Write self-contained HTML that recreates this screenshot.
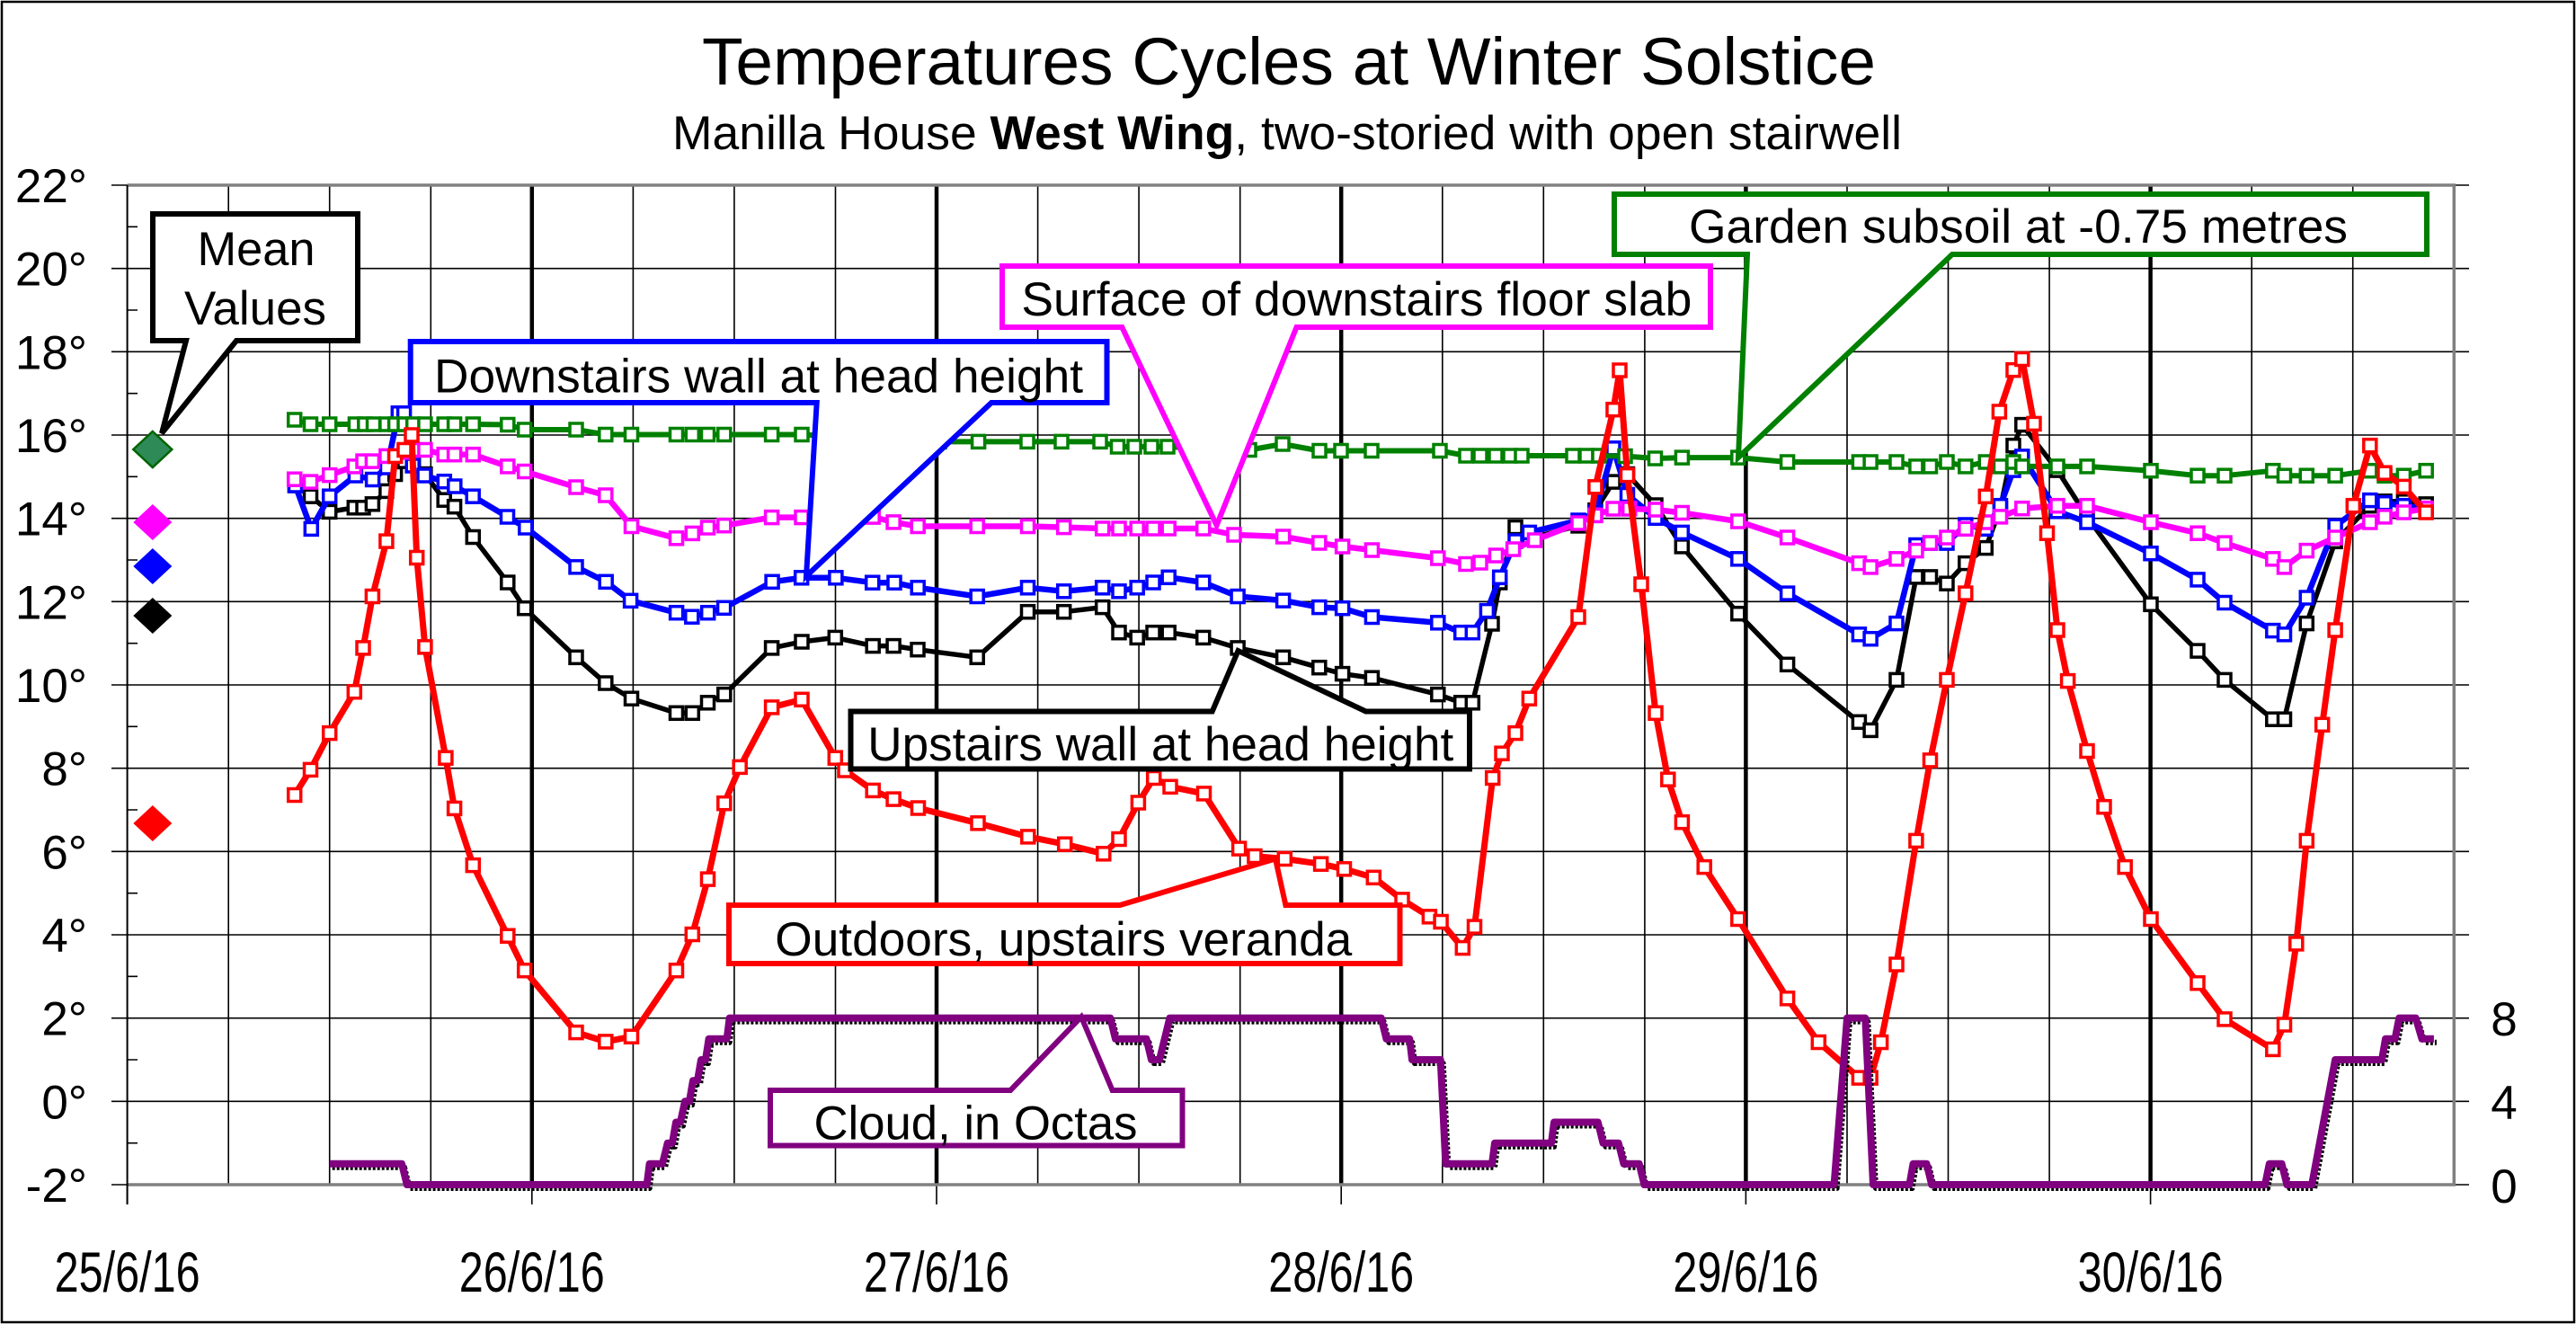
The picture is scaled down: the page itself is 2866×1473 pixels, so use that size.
<!DOCTYPE html>
<html><head><meta charset="utf-8">
<style>html,body{margin:0;padding:0;background:#fff}svg{display:block}</style>
</head><body>
<svg width="2866" height="1473" viewBox="0 0 2866 1473" xmlns="http://www.w3.org/2000/svg" font-family="'Liberation Sans', Arial, sans-serif">
<defs>
<marker id="mg" markerWidth="20" markerHeight="20" refX="10" refY="10" markerUnits="userSpaceOnUse" overflow="visible"><rect x="3" y="3" width="14" height="14" fill="#fff" stroke="#008000" stroke-width="3.5"/></marker>
<marker id="mp" markerWidth="20" markerHeight="20" refX="10" refY="10" markerUnits="userSpaceOnUse" overflow="visible"><rect x="3" y="3" width="14" height="14" fill="#fff" stroke="#ff00ff" stroke-width="3.5"/></marker>
<marker id="mb" markerWidth="20" markerHeight="20" refX="10" refY="10" markerUnits="userSpaceOnUse" overflow="visible"><rect x="3" y="3" width="14" height="14" fill="#fff" stroke="#0000ff" stroke-width="3.5"/></marker>
<marker id="mk" markerWidth="20" markerHeight="20" refX="10" refY="10" markerUnits="userSpaceOnUse" overflow="visible"><rect x="3" y="3" width="14" height="14" fill="#fff" stroke="#000" stroke-width="3.5"/></marker>
<marker id="mr" markerWidth="20" markerHeight="20" refX="10" refY="10" markerUnits="userSpaceOnUse" overflow="visible"><rect x="3" y="3" width="14" height="14" fill="#fff" stroke="#ff0000" stroke-width="3.5"/></marker>
</defs>
<rect x="0" y="0" width="2866" height="1473" fill="#fff"/>
<rect x="2" y="2" width="2862" height="1469" fill="none" stroke="#000" stroke-width="2.5"/>

<!-- Titles -->
<text x="1434" y="94" font-size="74" text-anchor="middle" textLength="1306" lengthAdjust="spacingAndGlyphs">Temperatures Cycles at Winter Solstice</text>
<text x="1432" y="166" font-size="53" text-anchor="middle" textLength="1368" lengthAdjust="spacingAndGlyphs">Manilla House <tspan font-weight="bold">West Wing</tspan>, two-storied with open stairwell</text>

<!-- Horizontal gridlines + left major ticks + right extension -->
<path d="M124,206H2747M124,298.7H2747M124,391.3H2747M124,484H2747M124,576.7H2747M124,669.3H2747M124,762H2747M124,854.7H2747M124,947.3H2747M124,1040H2747M124,1132.7H2747M124,1225.3H2747M124,1318H2747" stroke="#000" stroke-width="1.6" fill="none"/>
<!-- minor ticks -->
<path d="M141.6,252.3H153M141.6,345H153M141.6,437.7H153M141.6,530.3H153M141.6,623H153M141.6,715.7H153M141.6,808.3H153M141.6,901H153M141.6,993.7H153M141.6,1086.3H153M141.6,1179H153M141.6,1271.7H153" stroke="#000" stroke-width="1.6"/>
<!-- Vertical thin gridlines -->
<path d="M254.2,206V1318M366.7,206V1318M479.3,206V1318M704.4,206V1318M816.9,206V1318M929.5,206V1318M1154.6,206V1318M1267.1,206V1318M1379.7,206V1318M1604.8,206V1318M1717.3,206V1318M1829.9,206V1318M2055,206V1318M2167.5,206V1318M2280.1,206V1318M2505.2,206V1318M2617.7,206V1318" stroke="#000" stroke-width="1.6"/>
<!-- Day lines thick -->
<path d="M591.8,206V1318M1042,206V1318M1492.2,206V1318M1942.4,206V1318M2392.6,206V1318" stroke="#000" stroke-width="4.5"/>
<!-- bottom ticks -->
<path d="M141.6,1318V1340M591.8,1318V1340M1042,1318V1340M1492.2,1318V1340M1942.4,1318V1340M2392.6,1318V1340" stroke="#000" stroke-width="1.6"/>
<!-- Frame -->
<path d="M141.6,206H2730.3V1318H141.6" stroke="#808080" stroke-width="3.5" fill="none"/>
<path d="M141.6,206V1340" stroke="#000" stroke-width="2"/>

<!-- Y labels -->
<g font-size="53" text-anchor="end">
<text x="97" y="225">22°</text>
<text x="97" y="317.7">20°</text>
<text x="97" y="410.3">18°</text>
<text x="97" y="503">16°</text>
<text x="97" y="595.7">14°</text>
<text x="97" y="688.3">12°</text>
<text x="97" y="781">10°</text>
<text x="97" y="873.7">8°</text>
<text x="97" y="966.3">6°</text>
<text x="97" y="1059">4°</text>
<text x="97" y="1151.7">2°</text>
<text x="97" y="1244.3">0°</text>
<text x="97" y="1337">-2°</text>
</g>
<g font-size="53" text-anchor="middle">
<text x="2786" y="1152">8</text>
<text x="2786" y="1245">4</text>
<text x="2786" y="1338">0</text>
</g>
<!-- Date labels -->
<g font-size="63" text-anchor="middle">
<text x="141.6" y="1437" textLength="162" lengthAdjust="spacingAndGlyphs">25/6/16</text>
<text x="591.8" y="1437" textLength="162" lengthAdjust="spacingAndGlyphs">26/6/16</text>
<text x="1042" y="1437" textLength="162" lengthAdjust="spacingAndGlyphs">27/6/16</text>
<text x="1492.2" y="1437" textLength="162" lengthAdjust="spacingAndGlyphs">28/6/16</text>
<text x="1942.4" y="1437" textLength="162" lengthAdjust="spacingAndGlyphs">29/6/16</text>
<text x="2392.6" y="1437" textLength="162" lengthAdjust="spacingAndGlyphs">30/6/16</text>
</g>

<!-- Series: black (upstairs wall) -->
<polyline fill="none" stroke="#000" stroke-width="5.5" stroke-linejoin="round" marker-start="url(#mk)" marker-mid="url(#mk)" marker-end="url(#mk)" points="328.5,540 345.5,552.2 366.7,569.4 394.3,564.8 404,564.8 414.4,560.8 429.9,546.4 439.6,527.5 450,513.1 459.7,513.1 472.9,527.5 494.2,556.2 505.6,563.7 526.3,597.5 564.8,648 583.7,676.7 641,731.3 673.8,760 702.5,777.2 752.5,793.3 770.3,793.3 787.5,781.8 805.8,772.6 858.6,720.9 892,714 929.3,709.4 971.2,718.6 994.1,718.6 1021,722.7 1087.2,731.3 1143.5,680.7 1183.7,680.7 1226.7,675.6 1245,703.7 1265.2,709.4 1283,703.7 1300.2,703.7 1338.7,709.4 1377.1,720.9 1427.6,731.3 1467.8,742.7 1493.6,749.6 1526.4,754.2 1599.8,772.6 1625.7,781.8 1638.3,781.8 1660,694 1668.7,648 1686,586.6 1701.4,599 1756,584.9 1774.9,567.7 1795,536.1 1810.5,527.5 1842,562 1871.3,607.9 1933.8,682.7 1988.6,739.3 2068.4,803.3 2081.1,812.4 2110,756.4 2131.9,641.9 2147.5,641.9 2166,649.2 2186.8,626.6 2209.3,609.6 2225.5,565.7 2240,495.7 2249.8,472.6 2289,523.1 2322,574.9 2393,672.3 2445,724.1 2475,756.4 2528.8,800.2 2541.5,800.2 2566.3,693.6 2598.1,602.3 2636.8,562.7 2653,557.8 2674.4,557.8 2699.2,560.9"/>

<!-- Series: blue (downstairs wall) -->
<polyline fill="none" stroke="#0000ff" stroke-width="6.5" stroke-linejoin="round" marker-start="url(#mb)" marker-mid="url(#mb)" marker-end="url(#mb)" points="328.5,540 346.3,588.4 366.7,552.2 395.4,529 414.6,533.5 430.5,520 443.3,459.8 449.6,459.8 459.2,518 472,529 494.3,535.7 505.8,541 526.2,552.2 564.5,575 584.8,587 641,630.8 674.2,647.3 701.6,668.3 752.6,681.7 769.8,686.2 787.7,681.7 805.6,676.3 859.1,647.3 891.7,642.8 929.9,642.8 970.7,648.2 995,648.2 1021.2,653.8 1087.2,663.5 1143.5,653.8 1183.7,657.8 1226.7,653.8 1245,657.8 1265.2,653.8 1283,648 1300.2,642.3 1338.7,648 1377.1,663.5 1427.6,668.1 1467.8,675.6 1493.6,676.7 1526.4,686.5 1599.8,692.8 1625.7,703.7 1638.3,703.7 1654.4,679.6 1668.7,642.3 1686,602 1701.4,592.4 1756,579 1774.9,570 1795,498.8 1810.5,550.5 1842,576.3 1871.3,592.4 1933.8,621.8 1988.6,660.1 2068.4,705.8 2081.1,710.7 2110,693.6 2131.9,606.5 2147.5,604.1 2166,604.1 2186.8,584 2209.3,588.3 2225.5,562.7 2240,523.1 2249.8,507.9 2289,568.8 2322,581 2393,615.7 2445,644.9 2475,670.5 2528.8,701.6 2541.5,705.8 2566.3,665 2598.1,585.2 2636.8,556.6 2653,559.7 2674.4,562.7 2699.2,565.7"/>

<!-- Series: pink (floor slab) -->
<polyline fill="none" stroke="#ff00ff" stroke-width="6.5" stroke-linejoin="round" marker-start="url(#mp)" marker-mid="url(#mp)" marker-end="url(#mp)" points="327.7,533.2 345.5,536.1 366.7,528.6 394.3,518.9 404,513.1 414.4,513.1 429.9,507.4 439.6,507.4 450,502.8 459.7,500.5 472.9,500.5 494.2,505.7 505.6,505.7 526.3,505.7 564.8,518.9 583.7,524.5 641,542 673.8,551 702.5,585.5 752.5,598.8 770.3,593.4 787.5,587 805.8,584.7 858.6,575.6 892,575.6 971.2,575.1 994.1,580.9 1021.2,585.5 1087.2,585.5 1143.5,585.5 1183.7,586.6 1226.7,588 1245,588 1265.2,588 1283,588 1300.2,588 1338.7,588 1373,595 1427.6,597 1467.8,604 1493.6,608 1526.4,612 1599.8,621 1631,627.5 1647,626 1664.5,618 1683.6,611 1707.5,601 1756,582 1774.9,573.4 1795,566 1812.7,566 1842,567 1871.3,570.5 1933.8,580 1988.6,598 2068.4,626.6 2081.1,630.9 2110,621.8 2131.9,612.6 2147.5,604.1 2166,598 2186.8,588.3 2209.3,581 2225.5,574.9 2249.8,565.7 2289,562.7 2322,562.7 2393,581 2445,593.2 2475,604.1 2528.8,621.8 2541.5,630.9 2566.3,612.6 2598.1,598 2636.8,581 2653,574.9 2674.4,570 2699.2,565.7"/>

<!-- Series: green (subsoil) -->
<polyline fill="none" stroke="#008000" stroke-width="6" stroke-linejoin="round" marker-start="url(#mg)" marker-mid="url(#mg)" marker-end="url(#mg)" points="327.7,467 345.5,472 366.7,472 395.4,472 405.8,472 415.5,472 429.9,472 439.6,472 450,472 459.7,472 472.9,472 494.2,472 505.6,472 526.3,472 564.8,472.5 583.7,478 641,478 673.8,483.5 702.5,483.5 752.5,483.5 770.3,483.5 787.5,483.5 805.8,483.5 858.6,483.5 892,483.5 960,487 1010,490 1045,491.4 1088.6,491.4 1143,491.4 1181,491.4 1224,491.4 1243.5,497 1262,497 1281,497 1299,497 1340,499 1390,500.5 1427,494 1468,501.5 1492,501.5 1526,501.5 1602,501.5 1631,507 1647,507 1664,507 1680,507 1693,507 1750,507 1765,507 1779,507 1808,507.5 1841.5,510 1871.4,509.1 1933.8,509.1 1988.6,514 2068.4,514 2081.1,514 2110,514 2131.9,518.9 2147.5,518.9 2166,514 2186.8,518.9 2209.3,514 2225.5,518.9 2240,514 2249.8,518.9 2289,518.9 2322,518.9 2393,523.7 2445,529.2 2475,529.2 2528.8,523.7 2541.5,529.2 2566.3,529.2 2598.1,529.2 2636.8,523.7 2653,529.2 2674.4,529.2 2699.2,523.7"/>

<!-- Series: red (outdoors) -->
<polyline fill="none" stroke="#ff0000" stroke-width="7" stroke-linejoin="round" marker-start="url(#mr)" marker-mid="url(#mr)" marker-end="url(#mr)" points="327.7,884.5 345.5,856.4 366.7,815.6 394.3,769.7 404,720.9 414.4,663.5 429.9,602.1 439.6,507.4 450,500.5 458,484 463.7,620.5 472.9,719.8 495.9,843.2 505.6,899.4 526.3,962.6 564.8,1041.2 583.7,1079.7 641,1148.6 673.8,1158.9 702.5,1153.2 752.5,1079.7 770.3,1039.5 787.5,978.1 805.8,893.7 823.2,853.4 858.6,786.9 892,778.3 929.3,843.2 940,857 971.2,879.4 994.1,889.1 1021.5,899 1088,915.8 1143.8,930.9 1184.7,939.2 1227.8,949.8 1245,933.5 1266.4,893 1283.7,865.5 1302,875.3 1339.5,882.9 1378.6,944.1 1395.9,952.5 1429.3,955.5 1469.6,961.2 1495.5,966.8 1528.3,976.3 1560,1000.9 1590.4,1019.8 1603.1,1025.5 1627.3,1054.6 1640.5,1031.1 1660.7,865.5 1671,838.2 1686,815.6 1701.4,777.2 1756,686.5 1774.9,541.8 1795,455.7 1802,412 1810.5,528.6 1826,650 1842,793.3 1855.8,867.2 1871.4,914.7 1896.2,964.6 1933.8,1022.5 1988.6,1110.8 2023.3,1159.5 2068.4,1199.1 2081.1,1199.1 2092.6,1159.5 2110,1073 2131.9,935.4 2147.5,845.9 2166,756.4 2186.8,660.1 2209.3,552.3 2224.4,458 2240,411.7 2249.8,399.5 2263,471.4 2277.5,593.2 2289,701 2300.6,757.6 2322,835.5 2341,897.7 2364.2,964.6 2393,1022.5 2445,1093.7 2475,1133.9 2528.8,1167.4 2541.5,1140 2554.8,1049.9 2566.3,935.4 2583.7,806.3 2598.1,701 2618.3,562.7 2636.8,495.7 2653,526.2 2674.4,541.4 2699.2,570"/>

<!-- Series: cloud (octas) with black shadow -->
<g fill="none" stroke-linejoin="round">
<polyline transform="translate(3,4)" stroke="#000" stroke-width="6" stroke-dasharray="3 2" points="366.7,1294.8 447,1294.8 452.8,1318 719.7,1318 722.6,1294.8 737,1294.8 742.7,1271.7 748,1271.7 752,1248.5 757,1248.5 762,1225.3 767,1225.3 771,1202.2 776,1202.2 780,1179 785,1179 788.6,1155.8 808.7,1155.8 811.6,1132.6 1235.3,1132.6 1241,1155.8 1275.5,1155.8 1281,1179 1290,1179 1301.4,1132.6 1536.7,1132.6 1542.4,1155.8 1568.3,1155.8 1571,1179 1602.7,1179 1608.4,1294.8 1660,1294.8 1663,1271.7 1726,1271.7 1729,1248.5 1777.8,1248.5 1783.5,1271.7 1800.7,1271.7 1806.5,1294.8 1823.7,1294.8 1829.4,1318 2040.6,1318 2055,1132.6 2075.3,1132.6 2084,1318 2124.4,1318 2128.5,1294.8 2143.5,1294.8 2149.2,1318 2520,1318 2524.8,1294.8 2538.6,1294.8 2544.4,1318 2572.1,1318 2598.1,1179 2650,1179 2654,1155.8 2664.6,1155.8 2669.2,1132.6 2687.7,1132.6 2694.6,1155.8 2707.9,1155.8"/>
<polyline stroke="#800080" stroke-width="8" points="366.7,1294.8 447,1294.8 452.8,1318 719.7,1318 722.6,1294.8 737,1294.8 742.7,1271.7 748,1271.7 752,1248.5 757,1248.5 762,1225.3 767,1225.3 771,1202.2 776,1202.2 780,1179 785,1179 788.6,1155.8 808.7,1155.8 811.6,1132.6 1235.3,1132.6 1241,1155.8 1275.5,1155.8 1281,1179 1290,1179 1301.4,1132.6 1536.7,1132.6 1542.4,1155.8 1568.3,1155.8 1571,1179 1602.7,1179 1608.4,1294.8 1660,1294.8 1663,1271.7 1726,1271.7 1729,1248.5 1777.8,1248.5 1783.5,1271.7 1800.7,1271.7 1806.5,1294.8 1823.7,1294.8 1829.4,1318 2040.6,1318 2055,1132.6 2075.3,1132.6 2084,1318 2124.4,1318 2128.5,1294.8 2143.5,1294.8 2149.2,1318 2520,1318 2524.8,1294.8 2538.6,1294.8 2544.4,1318 2572.1,1318 2598.1,1179 2650,1179 2654,1155.8 2664.6,1155.8 2669.2,1132.6 2687.7,1132.6 2694.6,1155.8 2707.9,1155.8"/>
</g>

<!-- Mean value diamonds -->
<polygon points="169.8,480 191.3,500 169.8,520 148.3,500" fill="#2e8b57" stroke="#006400" stroke-width="2.5"/>
<polygon points="169.8,561 191.3,581 169.8,601 148.3,581" fill="#ff00ff"/>
<polygon points="169.8,610 191.3,630 169.8,650 148.3,630" fill="#0000ff"/>
<polygon points="169.8,665 191.3,685 169.8,705 148.3,685" fill="#000"/>
<polygon points="169.8,896 191.3,916 169.8,936 148.3,916" fill="#ff0000"/>

<!-- Callouts -->
<g stroke-width="6" fill="#fff" stroke-linejoin="miter">
<path d="M170,238H398V379H263L180,482L207,379H170Z" stroke="#000"/>
<path d="M456.7,380H1231.5V448H1103L897,641L908.7,448H456.7Z" stroke="#0000ff"/>
<path d="M1115,296H1903V364H1442.5L1353.6,584.4L1248.3,364H1115Z" stroke="#ff00ff"/>
<path d="M1796,216H2700V283H2172L1934,509L1944,283H1796Z" stroke="#008000"/>
<path d="M946.5,791.5H1348.7L1377.5,724L1519.6,791.5H1635V855.5H946.5Z" stroke="#000"/>
<path d="M811,1007H1246L1419,955.5L1430.4,1007H1557.5V1072H811Z" stroke="#ff0000"/>
<path d="M857,1213H1124.2L1203,1131.3L1237.6,1213H1315.5V1274.5H857Z" stroke="#800080"/>
</g>
<g font-size="53" fill="#000">
<text x="285" y="295" text-anchor="middle" textLength="131" lengthAdjust="spacingAndGlyphs">Mean</text>
<text x="284" y="361" text-anchor="middle" textLength="158" lengthAdjust="spacingAndGlyphs">Values</text>
<text x="483" y="436.5" textLength="722" lengthAdjust="spacingAndGlyphs">Downstairs wall at head height</text>
<text x="1136.4" y="351" textLength="746" lengthAdjust="spacingAndGlyphs">Surface of downstairs floor slab</text>
<text x="1879" y="270" textLength="733" lengthAdjust="spacingAndGlyphs">Garden subsoil at -0.75 metres</text>
<text x="965.3" y="846" textLength="652" lengthAdjust="spacingAndGlyphs">Upstairs wall at head height</text>
<text x="862.3" y="1063" textLength="642" lengthAdjust="spacingAndGlyphs">Outdoors, upstairs veranda</text>
<text x="905.5" y="1267.5" textLength="360" lengthAdjust="spacingAndGlyphs">Cloud, in Octas</text>
</g>
</svg>
</body></html>
